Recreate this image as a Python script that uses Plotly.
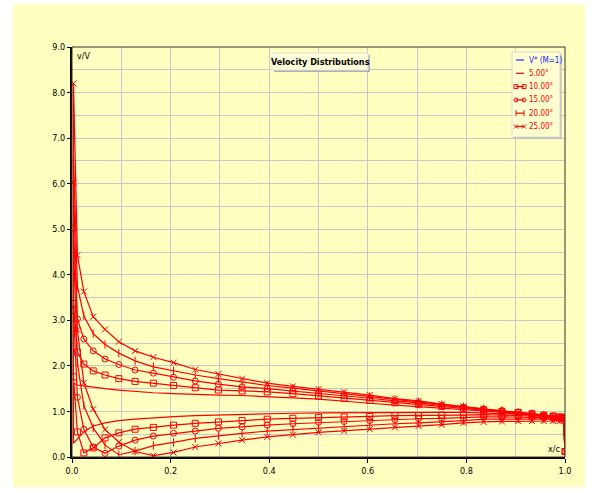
import plotly.graph_objects as go

# ---------------- data ----------------
X_STATIONS = [0.003, 0.011, 0.024, 0.043, 0.067, 0.095, 0.128, 0.165, 0.206, 0.25,
              0.297, 0.345, 0.396, 0.448, 0.5, 0.552, 0.604, 0.655, 0.703, 0.75,
              0.794, 0.835, 0.872, 0.905, 0.933, 0.957, 0.976, 0.989, 0.997, 1.0]

ANGLES = ["5.00°", "10.00°", "15.00°", "20.00°", "25.00°"]

UPPER_5 = [1.62, 1.58, 1.56, 1.53, 1.50, 1.47, 1.44, 1.41, 1.39, 1.37, 1.36, 1.35, 1.33, 1.30, 1.27,
           1.22, 1.18, 1.14, 1.11, 1.07, 1.04, 1.01, 0.99, 0.96, 0.94, 0.91, 0.90, 0.88, 0.87, 0.87]
UPPER_10 = [3.37, 2.30, 2.04, 1.89, 1.80, 1.72, 1.66, 1.62, 1.57, 1.52, 1.47, 1.45, 1.43, 1.39, 1.34,
            1.29, 1.24, 1.19, 1.15, 1.11, 1.07, 1.03, 1.00, 0.98, 0.95, 0.92, 0.90, 0.88, 0.87, 0.86]
UPPER_15 = [5.02, 3.03, 2.59, 2.33, 2.15, 2.03, 1.91, 1.84, 1.75, 1.67, 1.60, 1.54, 1.50, 1.45, 1.40,
            1.34, 1.29, 1.23, 1.19, 1.13, 1.09, 1.05, 1.02, 0.98, 0.95, 0.92, 0.90, 0.87, 0.85, 0.84]
UPPER_20 = [6.63, 3.75, 3.10, 2.71, 2.47, 2.28, 2.11, 1.98, 1.89, 1.80, 1.72, 1.64, 1.57, 1.51, 1.45,
            1.39, 1.33, 1.26, 1.21, 1.15, 1.10, 1.06, 1.02, 0.98, 0.95, 0.91, 0.88, 0.86, 0.83, 0.82]
UPPER_25 = [8.20, 4.43, 3.63, 3.08, 2.80, 2.53, 2.33, 2.19, 2.07, 1.92, 1.82, 1.72, 1.62, 1.55, 1.49,
            1.42, 1.36, 1.28, 1.23, 1.16, 1.11, 1.06, 1.01, 0.97, 0.94, 0.90, 0.87, 0.84, 0.81, 0.79]

LOWER_5 = [0.30, 0.40, 0.55, 0.68, 0.75, 0.80, 0.83, 0.86, 0.885, 0.91, 0.93, 0.93, 0.95, 0.96, 0.97,
           0.97, 0.98, 0.98, 0.98, 0.98, 0.98, 0.97, 0.95, 0.94, 0.92, 0.91, 0.89, 0.88, 0.88, 0.12]
LOWER_10 = [1.76, 0.55, 0.09, 0.20, 0.42, 0.53, 0.61, 0.65, 0.70, 0.74, 0.77, 0.80, 0.83, 0.85, 0.87,
            0.88, 0.89, 0.91, 0.91, 0.92, 0.92, 0.93, 0.92, 0.91, 0.90, 0.89, 0.88, 0.87, 0.87, 0.12]
LOWER_15 = [3.21, 1.31, 0.61, 0.22, 0.08, 0.24, 0.37, 0.46, 0.52, 0.57, 0.63, 0.66, 0.70, 0.73, 0.76,
            0.78, 0.80, 0.82, 0.84, 0.85, 0.86, 0.88, 0.88, 0.88, 0.87, 0.86, 0.85, 0.85, 0.85, 0.12]
LOWER_20 = [4.64, 2.06, 1.13, 0.64, 0.26, 0.05, 0.13, 0.25, 0.32, 0.41, 0.47, 0.52, 0.57, 0.61, 0.64,
            0.67, 0.70, 0.73, 0.75, 0.77, 0.80, 0.83, 0.83, 0.83, 0.83, 0.83, 0.83, 0.83, 0.83, 0.12]
LOWER_25 = [6.03, 2.79, 1.63, 1.05, 0.60, 0.33, 0.12, 0.03, 0.10, 0.22, 0.30, 0.37, 0.44, 0.49, 0.54,
            0.57, 0.61, 0.65, 0.68, 0.71, 0.75, 0.77, 0.78, 0.79, 0.79, 0.79, 0.79, 0.79, 0.80, 0.12]

UPPERS = [UPPER_5, UPPER_10, UPPER_15, UPPER_20, UPPER_25]
LOWERS = [LOWER_5, LOWER_10, LOWER_15, LOWER_20, LOWER_25]

X_TICKS = [0.0, 0.2, 0.4, 0.6, 0.8, 1.0]
Y_TICKS = [0, 1, 2, 3, 4, 5, 6, 7, 8, 9]

# ---------------- styling ----------------
W, H = 592, 490
L, R, T, B = 72, 27, 47, 33
PW, PH = W - L - R, H - T - B
BG = "#FFFFC0"
GRID = "#C8C8CC"
RED = "#FF0000"
BLUE = "#2020FF"
FONT = "Liberation Sans Narrow, DejaVu Sans Condensed, Arial Narrow, sans-serif"
SYMBOLS = [None, "square-open", "circle-open", "line-ns-open", "x-thin-open"]


def px(xp):
    return (xp - L) / PW


def py(yp):
    return (H - B - yp) / PH


fig = go.Figure()

for name, up, lo, sym in zip(ANGLES, UPPERS, LOWERS, SYMBOLS):
    xs = X_STATIONS[::-1] + X_STATIONS
    ys = lo[::-1] + up
    mode = "lines" if sym is None else "lines+markers"
    fig.add_trace(go.Scatter(
        x=xs, y=ys, mode=mode, name=name, showlegend=False,
        line=dict(color=RED, width=1.2),
        marker=dict(symbol=sym or "circle", size=6, color=RED,
                    line=dict(color=RED, width=1)),
    ))

shapes = []
annotations = []

# page background panel
shapes.append(dict(type="rect", xref="paper", yref="paper",
                   x0=px(13), x1=px(585), y0=py(487), y1=py(4),
                   fillcolor=BG, line=dict(width=0), layer="below"))
# plot frame top/right
shapes.append(dict(type="rect", xref="paper", yref="paper", x0=0, x1=1, y0=0, y1=1,
                   line=dict(color="#303030", width=1), layer="above"))

# title box (with shadow)
shapes.append(dict(type="rect", xref="paper", yref="paper",
                   x0=px(274), x1=px(370), y0=py(72), y1=py(55),
                   fillcolor="#B0B0B0", line=dict(width=0)))
shapes.append(dict(type="rect", xref="paper", yref="paper",
                   x0=px(272), x1=px(368), y0=py(70), y1=py(53),
                   fillcolor="#FFFFD8", line=dict(color="#E0E0E0", width=1)))
annotations.append(dict(xref="paper", yref="paper", x=px(320), y=py(61.5),
                        xanchor="center", yanchor="middle",
                        text="<b>Velocity Distributions</b>", showarrow=False,
                        font=dict(family=FONT, size=9, color="#000000")))

# axis captions
annotations.append(dict(xref="paper", yref="paper", x=px(75), y=py(49), xanchor="left",
                        yanchor="top", text="v/V", showarrow=False,
                        font=dict(family=FONT, size=9, color="#000000")))
annotations.append(dict(xref="paper", yref="paper", x=px(562), y=py(449), xanchor="right",
                        yanchor="middle", text="x/c", showarrow=False,
                        font=dict(family=FONT, size=9, color="#000000")))

# custom legend
LEG_X0, LEG_X1, LEG_Y0, LEG_Y1 = 512, 560, 52, 137
shapes.append(dict(type="rect", xref="paper", yref="paper",
                   x0=px(LEG_X0 + 1.5), x1=px(LEG_X1 + 1.5), y0=py(LEG_Y1 + 1.5), y1=py(LEG_Y0 + 1.5),
                   fillcolor="#B8B8B8", line=dict(width=0)))
shapes.append(dict(type="rect", xref="paper", yref="paper",
                   x0=px(LEG_X0), x1=px(LEG_X1), y0=py(LEG_Y1), y1=py(LEG_Y0),
                   fillcolor="#FFFFD0", line=dict(color="#D8D8D8", width=1)))
legend_items = [("V* (M=1)", BLUE, None)] + [(a, RED, s) for a, s in zip(ANGLES, SYMBOLS)]
for i, (label, col, sym) in enumerate(legend_items):
    yy = 60 + i * 13.3
    ga, gb = 516, 524
    shapes.append(dict(type="line", xref="paper", yref="paper", x0=px(ga), x1=px(gb),
                       y0=py(yy), y1=py(yy), line=dict(color=col, width=1.2)))
    for gx in (ga, gb):
        if sym == "square-open":
            shapes.append(dict(type="rect", xref="paper", yref="paper", x0=px(gx - 2), x1=px(gx + 2),
                               y0=py(yy + 2), y1=py(yy - 2), line=dict(color=col, width=1)))
        elif sym == "circle-open":
            shapes.append(dict(type="circle", xref="paper", yref="paper", x0=px(gx - 2), x1=px(gx + 2),
                               y0=py(yy + 2), y1=py(yy - 2), line=dict(color=col, width=1)))
        elif sym == "line-ns-open":
            shapes.append(dict(type="line", xref="paper", yref="paper", x0=px(gx), x1=px(gx),
                               y0=py(yy + 3), y1=py(yy - 3), line=dict(color=col, width=1)))
        elif sym == "x-thin-open":
            shapes.append(dict(type="line", xref="paper", yref="paper", x0=px(gx - 2), x1=px(gx + 2),
                               y0=py(yy + 2), y1=py(yy - 2), line=dict(color=col, width=1)))
            shapes.append(dict(type="line", xref="paper", yref="paper", x0=px(gx - 2), x1=px(gx + 2),
                               y0=py(yy - 2), y1=py(yy + 2), line=dict(color=col, width=1)))
    annotations.append(dict(xref="paper", yref="paper", x=px(527), y=py(yy), xanchor="left",
                            yanchor="middle", text=label, showarrow=False,
                            font=dict(family=FONT, size=8, color=col)))

fig.update_layout(
    width=W, height=H,
    margin=dict(l=L, r=R, t=T, b=B, autoexpand=False),
    paper_bgcolor="#FFFFFF", plot_bgcolor=BG,
    showlegend=False,
    shapes=shapes, annotations=annotations,
    font=dict(family=FONT, size=9, color="#000000"),
)
fig.update_xaxes(range=[0, 1], tickvals=X_TICKS, ticktext=[f"{v:.1f}" for v in X_TICKS],
                 showgrid=True, gridcolor=GRID, gridwidth=1,
                 minor=dict(dtick=0.1, tick0=0, showgrid=True, gridcolor=GRID, gridwidth=1),
                 showline=True, linecolor="#000000", linewidth=2,
                 ticks="outside", ticklen=4, tickcolor="#000000", zeroline=False,
                 tickfont=dict(family=FONT, size=9, color="#000000"))
fig.update_yaxes(range=[0, 9], tickvals=Y_TICKS, ticktext=[f"{v:.1f}" for v in Y_TICKS],
                 showgrid=True, gridcolor=GRID, gridwidth=1,
                 minor=dict(dtick=0.5, tick0=0, showgrid=True, gridcolor=GRID, gridwidth=1),
                 showline=True, linecolor="#000000", linewidth=2,
                 ticks="outside", ticklen=3, tickcolor="#000000", zeroline=False,
                 tickfont=dict(family=FONT, size=9, color="#000000"))

fig.write_html("out.html")
